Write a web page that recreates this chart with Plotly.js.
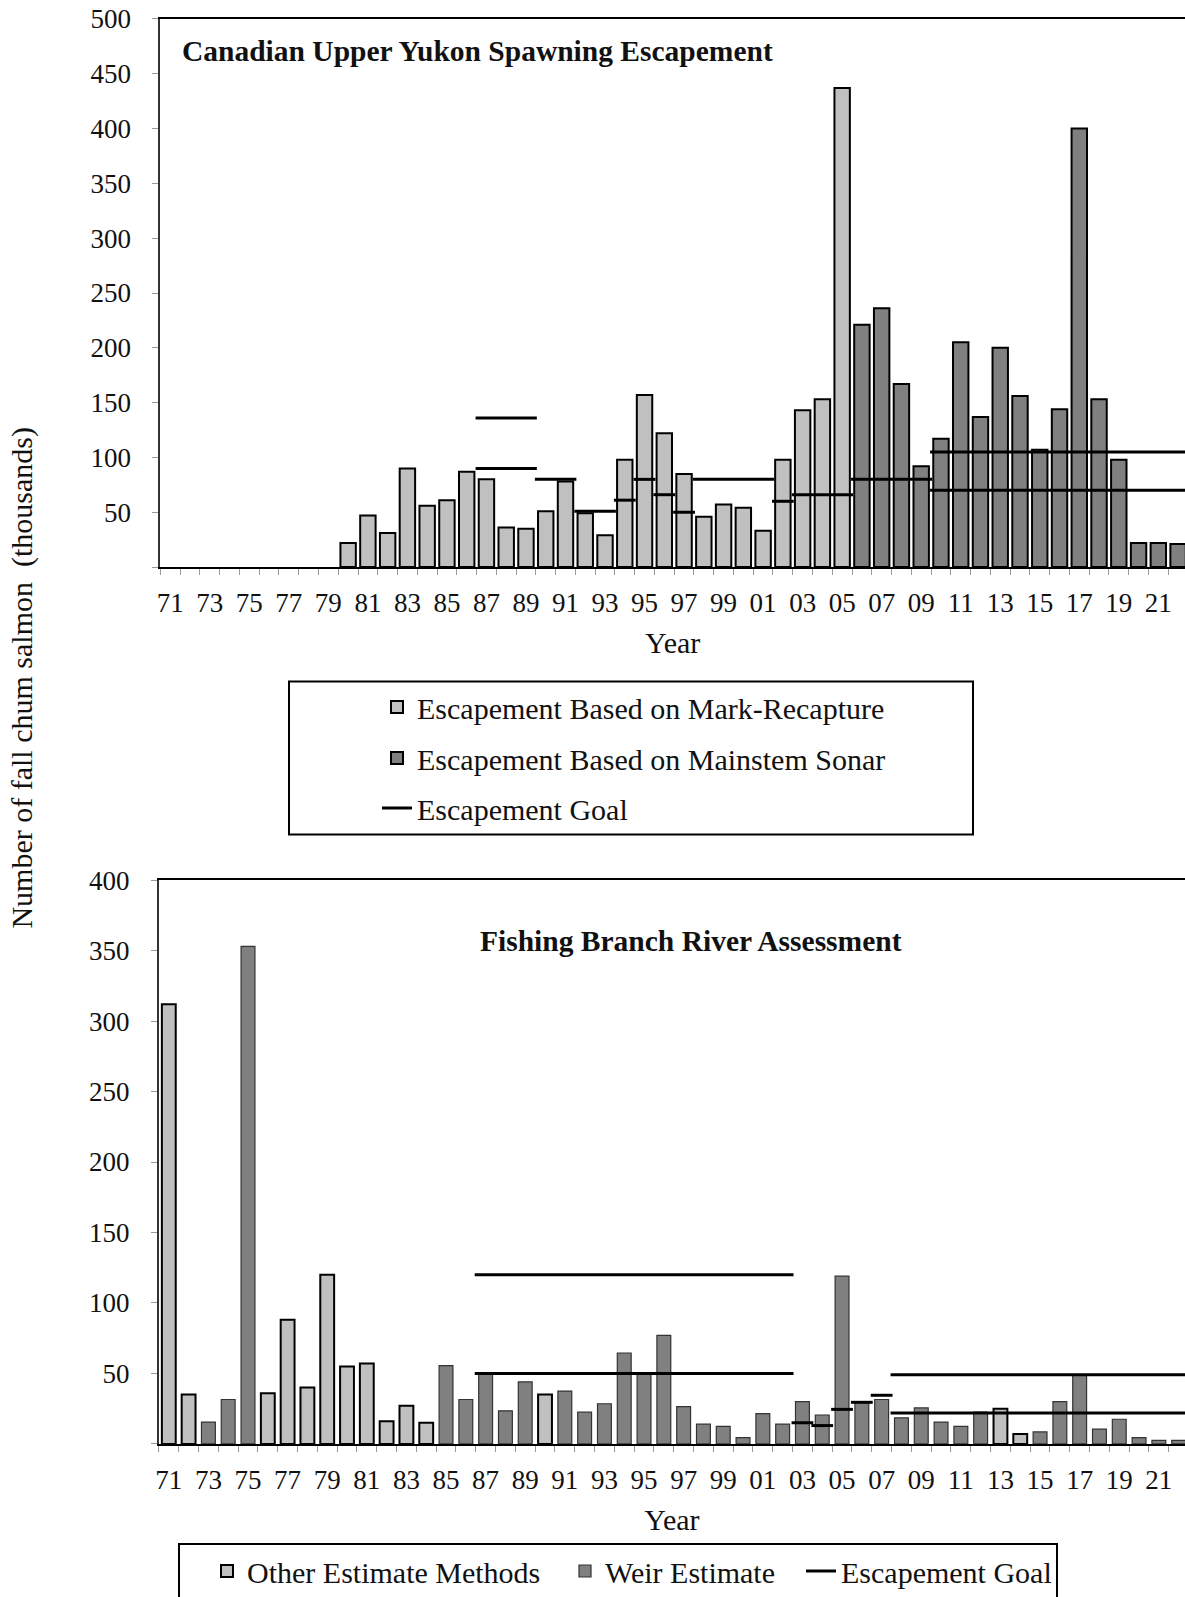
<!DOCTYPE html>
<html>
<head>
<meta charset="utf-8">
<script src="https://cdn.plot.ly/plotly-3.0.1.min.js"></script>
<style>
html,body{margin:0;padding:0;background:#fff;overflow:hidden;}
#chart{width:1185px;height:1597px;}
</style>
</head>
<body>
<div id="chart"></div>
<script>
// ---------- DATA ----------
// Top panel: Canadian Upper Yukon Spawning Escapement (thousands)
const topMarkYears  = [1980,1981,1982,1983,1984,1985,1986,1987,1988,1989,1990,1991,1992,1993,1994,1995,1996,1997,1998,1999,2000,2001,2002,2003,2004,2005];
const topMarkValues = [22,47,31,90,56,61,87,80,36,35,51,78,49,29,98,157,122,85,46,57,54,33,98,143,153,437];
const topSonarYears  = [2006,2007,2008,2009,2010,2011,2012,2013,2014,2015,2016,2017,2018,2019,2020,2021,2022];
const topSonarValues = [221,236,167,92,117,205,137,200,156,107,144,400,153,98,22,22,21];
const topGoalStart = [1987,1987,1990,1992,1994,1995,1996,1997,1998,2002,2003,2006,2010,2010];
const topGoalEnd   = [1989,1989,1991,1993,1994,1995,1996,1997,2001,2002,2005,2009,2022,2022];
const topGoalValue = [136,90,80,51,61,80,66,50,80,60,66,80,105,70];

// Bottom panel: Fishing Branch River Assessment (thousands)
const botOtherYears  = [1971,1972,1976,1977,1978,1979,1980,1981,1982,1983,1984,1990,2013,2014];
const botOtherValues = [312,35,36,88,40,120,55,57,16,27,15,35,25,7];
const botWeirYears  = [1973,1974,1975,1985,1986,1987,1988,1989,1991,1992,1993,1994,1995,1996,1997,1998,1999,2000,2001,2002,2003,2004,2005,2006,2007,2008,2009,2010,2011,2012,2015,2016,2017,2018,2019,2020,2021,2022];
const botWeirValues = [15.5,31.5,353,55.5,31.5,49.5,23.5,44,37.5,22.5,28.5,64.5,49.5,77,26.5,14,12.5,4.5,21.5,14,30,20.5,119,29.5,31.5,18.5,25.5,15.5,12.5,22.5,8.5,30,49,10.5,17.5,4.5,2.5,2.5];
const botGoalStart = [1987,1987,2003,2004,2005,2006,2007,2008,2008];
const botGoalEnd   = [2002,2002,2003,2004,2005,2006,2007,2022,2022];
const botGoalValue = [120,50,15,13,24.5,29.5,34.5,49,22];

// Axis tick labels
const xTickYears  = [1971,1973,1975,1977,1979,1981,1983,1985,1987,1989,1991,1993,1995,1997,1999,2001,2003,2005,2007,2009,2011,2013,2015,2017,2019,2021];
const xTickLabels = ['71','73','75','77','79','81','83','85','87','89','91','93','95','97','99','01','03','05','07','09','11','13','15','17','19','21'];
const topYTickVals = [0,50,100,150,200,250,300,350,400,450,500];
const topYTickText = ['','50','100','150','200','250','300','350','400','450','500'];
const botYTickVals = [0,50,100,150,200,250,300,350,400];
const botYTickText = ['','50','100','150','200','250','300','350','400'];

// ---------- HELPERS ----------
const W = 1185, H = 1597;
const px = v => v / W;
const py = v => 1 - v / H;
const FONT = 'Liberation Serif, Times New Roman, serif';
const LIGHT = '#c0c0c0', DARK = '#808080';

function goalXY(starts, ends, vals) {
  const x = [], y = [];
  for (let i = 0; i < vals.length; i++) {
    x.push(starts[i] - 0.55, ends[i] + 0.55, null);
    y.push(vals[i], vals[i], null);
  }
  return {x, y};
}
const tg = goalXY(topGoalStart, topGoalEnd, topGoalValue);
const bg = goalXY(botGoalStart, botGoalEnd, botGoalValue);

const traces = [
  {type:'bar', x: topMarkYears, y: topMarkValues, width: 0.78, name:'Escapement Based on Mark-Recapture',
   marker:{color: LIGHT, line:{color:'#000', width:2}}, xaxis:'x', yaxis:'y', legend:'legend'},
  {type:'bar', x: topSonarYears, y: topSonarValues, width: 0.78, name:'Escapement Based on Mainstem Sonar',
   marker:{color: DARK, line:{color:'#000', width:2}}, xaxis:'x', yaxis:'y', legend:'legend2'},
  {type:'scatter', mode:'lines', x: tg.x, y: tg.y, connectgaps:false, name:'Escapement Goal',
   line:{color:'#000', width:3}, xaxis:'x', yaxis:'y', legend:'legend3'},
  {type:'bar', x: botOtherYears, y: botOtherValues, width: 0.7, name:'Other Estimate Methods',
   marker:{color: LIGHT, line:{color:'#000', width:2}}, xaxis:'x2', yaxis:'y2', legend:'legend4'},
  {type:'bar', x: botWeirYears, y: botWeirValues, width: 0.7, name:'Weir Estimate',
   marker:{color: DARK, line:{color:'#333', width:1.2}}, xaxis:'x2', yaxis:'y2', legend:'legend5'},
  {type:'scatter', mode:'lines', x: bg.x, y: bg.y, connectgaps:false, name:'Escapement Goal',
   line:{color:'#000', width:3}, xaxis:'x2', yaxis:'y2', legend:'legend6'}
];

function xAxis(domL, rangeR, anchor) {
  return {
    domain:[domL, 1], anchor: anchor, range:[1970.5, rangeR],
    tickmode:'array', tickvals: xTickYears, ticktext: xTickLabels, ticks:'',
    ticklabelstandoff: 11,
    minor:{tickmode:'linear', tick0:1970.5, dtick:1, ticks:'outside', ticklen:6, tickcolor:'#999', tickwidth:1, showgrid:false},
    tickfont:{family:FONT, size:27, color:'#111'},
    showline:true, linecolor:'#000', linewidth:2, mirror:true,
    showgrid:false, zeroline:false,
    title:{text:'Year', font:{family:FONT, size:30, color:'#111'}, standoff:15}
  };
}
function yAxis(dom, range, tv, tt, anchor) {
  return {
    domain: dom, anchor: anchor, range: range,
    tickmode:'array', tickvals: tv, ticktext: tt,
    ticks:'outside', ticklen:6, tickcolor:'#999', tickwidth:1,
    ticklabelstandoff: 16,
    tickfont:{family:FONT, size:27, color:'#111'},
    showline:true, linecolor:'#333', linewidth:2, mirror:false,
    showgrid:false, zeroline:false
  };
}

function leg(xpx, ypx) {
  return {x: px(xpx), y: py(ypx), xanchor:'left', yanchor:'middle', bgcolor:'rgba(0,0,0,0)',
          borderwidth:0, font:{family:FONT, size:30, color:'#111'}, orientation:'v'};
}

const layout = {
  width: W, height: H,
  margin:{l:0, r:0, t:0, b:0},
  paper_bgcolor:'#fff', plot_bgcolor:'#fff',
  barmode:'overlay', showlegend:true,
  xaxis: xAxis(px(160.4), 2022.35, 'y'),
  yaxis: yAxis([py(567.4), py(19)], [0, 500], topYTickVals, topYTickText, 'x'),
  xaxis2: xAxis(px(158.9), 2022.32, 'y2'),
  yaxis2: yAxis([py(1444.8), py(880.7)], [0, 400], botYTickVals, botYTickText, 'x2'),
  legend:  leg(377, 707),
  legend2: leg(377, 758),
  legend3: leg(377, 808),
  legend4: leg(207, 1572),
  legend5: leg(565, 1572),
  legend6: leg(801, 1572),
  shapes:[
    {type:'rect', xref:'paper', yref:'paper', x0:px(289), x1:px(973), y0:py(835), y1:py(682), line:{color:'#000', width:2}},
    {type:'rect', xref:'paper', yref:'paper', x0:px(179), x1:px(1057), y0:py(1610), y1:py(1545), line:{color:'#000', width:2}}
  ],
  annotations:[
    {xref:'paper', yref:'paper', x:px(180), y:py(51), xanchor:'left', yanchor:'middle', showarrow:false,
     text:'<b>Canadian Upper Yukon Spawning Escapement</b>', font:{family:FONT, size:29.5, color:'#111'}},
    {xref:'paper', yref:'paper', x:px(691), y:py(941.5), xanchor:'center', yanchor:'middle', showarrow:false,
     text:'<b>Fishing Branch River Assessment</b>', font:{family:FONT, size:29.5, color:'#111'}},
    {xref:'paper', yref:'paper', x:px(22), y:py(678), xanchor:'center', yanchor:'middle', showarrow:false, textangle:-90,
     text:'Number of fall chum salmon  (thousands)', font:{family:FONT, size:30, color:'#111'}}
  ]
};

Plotly.newPlot('chart', traces, layout, {staticPlot:true, displayModeBar:false});
</script>
</body>
</html>
